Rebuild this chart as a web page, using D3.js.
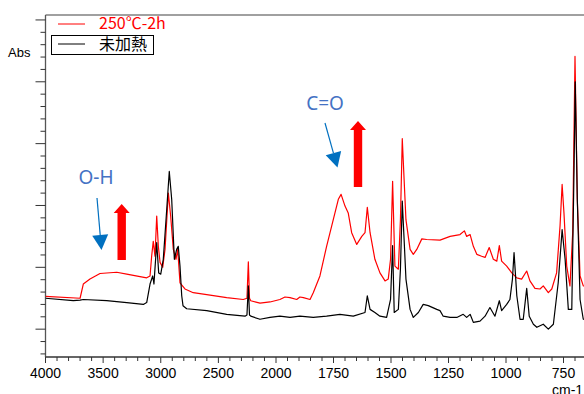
<!DOCTYPE html>
<html>
<head>
<meta charset="utf-8">
<script src="https://cdn.jsdelivr.net/npm/d3@7"></script>
<style>
  body { margin: 0; background: #fff; }
  svg { display: block; font-family: "Liberation Sans", Arial, sans-serif; }
</style>
</head>
<body>
<div id="chart"></div>
<script>
// wavenumber (cm-1) and absorbance
const heatedWn = [4000, 3700, 3672, 3614, 3527, 3382, 3295, 3180, 3122, 3093, 3079, 3065, 3050, 3035, 3021, 3006, 2983, 2963, 2934, 2914, 2891, 2868, 2853, 2833, 2790, 2718, 2601, 2428, 2284, 2252, 2240, 2230, 2219, 2139, 2052,
  1983, 1961, 1939, 1910, 1896, 1881, 1852, 1838, 1809, 1780, 1751, 1729, 1717, 1700, 1686, 1671, 1649, 1627, 1613, 1603, 1591, 1570, 1548, 1526, 1512, 1502, 1493, 1483, 1468, 1459, 1451, 1443, 1435, 1417, 1403, 1388, 1366, 1345, 1287, 1243, 1200, 1181, 1171, 1156, 1142, 1127, 1106, 1091, 1073, 1055, 1040, 1029, 1019, 997, 975, 953, 932, 910, 896, 874, 852, 838, 816, 801, 780, 765, 756, 748, 736, 722, 710, 700, 690, 678, 664, 635];
const heatedAbs = [0.053, 0.050, 0.073, 0.081, 0.090, 0.092, 0.089, 0.085, 0.083, 0.086, 0.118, 0.142, 0.118, 0.183, 0.134, 0.108, 0.100, 0.129, 0.220, 0.183, 0.129, 0.113, 0.129, 0.075, 0.065, 0.059, 0.056, 0.051, 0.048, 0.050, 0.109, 0.050, 0.046, 0.042, 0.044,
  0.048, 0.052, 0.051, 0.048, 0.052, 0.051, 0.048, 0.059, 0.086, 0.134, 0.177, 0.210, 0.218, 0.199, 0.188, 0.156, 0.137, 0.150, 0.156, 0.197, 0.156, 0.113, 0.091, 0.078, 0.081, 0.113, 0.239, 0.102, 0.097, 0.177, 0.308, 0.242, 0.177, 0.129, 0.121, 0.129, 0.146, 0.145, 0.144, 0.150, 0.153, 0.159, 0.150, 0.153, 0.134, 0.121, 0.118, 0.116, 0.132, 0.113, 0.110, 0.135, 0.110, 0.102, 0.091, 0.083, 0.081, 0.094, 0.078, 0.066, 0.065, 0.070, 0.059, 0.065, 0.091, 0.167, 0.234, 0.188, 0.102, 0.070, 0.156, 0.441, 0.210, 0.086, 0.070, 0.068];

const rawWn = [4000, 3759, 3700, 3672, 3469, 3295, 3151, 3122, 3093, 3070, 3059, 3035, 3018, 3000, 2978, 2948, 2926, 2905, 2882, 2862, 2848, 2833, 2818, 2807, 2775, 2601, 2428, 2269, 2252, 2240, 2230, 2219, 2139, 2052,
  1983, 1939, 1896, 1838, 1780, 1722, 1664, 1613, 1603, 1591, 1570, 1548, 1519, 1502, 1493, 1486, 1468, 1459, 1451, 1443, 1435, 1417, 1403, 1381, 1360, 1338, 1301, 1287, 1273, 1243, 1214, 1186, 1171, 1156, 1142, 1113, 1091, 1070, 1048, 1029, 1019, 997, 983, 972, 965, 959, 953, 939, 925, 910, 899, 881, 866, 838, 816, 794, 773, 756, 743, 729, 714, 704, 699, 690, 678, 664, 635];
const rawAbs = [0.050, 0.046, 0.047, 0.048, 0.046, 0.043, 0.040, 0.043, 0.073, 0.086, 0.073, 0.140, 0.091, 0.089, 0.113, 0.194, 0.255, 0.210, 0.113, 0.129, 0.134, 0.102, 0.054, 0.038, 0.033, 0.030, 0.024, 0.021, 0.023, 0.070, 0.023, 0.021, 0.016, 0.019,
  0.021, 0.019, 0.021, 0.019, 0.021, 0.024, 0.021, 0.027, 0.054, 0.032, 0.027, 0.021, 0.019, 0.048, 0.135, 0.027, 0.032, 0.097, 0.207, 0.145, 0.081, 0.032, 0.019, 0.027, 0.040, 0.038, 0.032, 0.030, 0.021, 0.019, 0.019, 0.024, 0.019, 0.024, 0.011, 0.013, 0.021, 0.035, 0.021, 0.046, 0.030, 0.040, 0.048, 0.081, 0.124, 0.089, 0.054, 0.016, 0.016, 0.066, 0.021, 0.008, 0.003, 0.008, 0.000, 0.008, 0.075, 0.161, 0.113, 0.032, 0.032, 0.263, 0.400, 0.210, 0.048, 0.016, 0.015];

const xLabels = [4000, 3500, 3000, 2500, 2000, 1750, 1500, 1250, 1000, 750];
const legendNames = ["250\u2103-2h", "未加熱"];
const seriesColors = ["#ff0000", "#000000"];

const width = 584, height = 394;
const plotLeft = 45.5, plotTop = 15, plotBottom = 357;

const svg = d3.select("#chart").append("svg")
  .attr("width", width).attr("height", height);

// x axis is split: above 2000 cm-1 it is compressed by half
const x = d3.scaleLinear().domain([4000, 2000, 650]).range([plotLeft, 276, 586.5]);
const y = d3.scaleLinear().domain([-0.045, 0.508]).range([plotBottom, plotTop]);

svg.append("defs").append("clipPath").attr("id", "plot")
  .append("rect").attr("x", plotLeft).attr("y", plotTop)
  .attr("width", width - plotLeft).attr("height", plotBottom - plotTop);

// frame
svg.append("line").attr("x1", plotLeft).attr("x2", width).attr("y1", plotTop).attr("y2", plotTop)
  .attr("stroke", "#808080").attr("stroke-width", 1.5);
svg.append("line").attr("x1", plotLeft).attr("x2", plotLeft).attr("y1", plotTop).attr("y2", plotBottom)
  .attr("stroke", "#555").attr("stroke-width", 1.3);
svg.append("line").attr("x1", plotLeft).attr("x2", width).attr("y1", plotBottom).attr("y2", plotBottom)
  .attr("stroke", "#333").attr("stroke-width", 1.3);

// y ticks, no labels
const yTicks = d3.range(-4, 51, 2).map(d => d / 100);
svg.append("g").selectAll("line").data(yTicks).join("line")
  .attr("x1", d => Math.abs(Math.round(d * 100) % 10) === 0 ? plotLeft - 10 : plotLeft - 5)
  .attr("x2", plotLeft)
  .attr("y1", d => y(d)).attr("y2", d => y(d))
  .attr("stroke", "#333").attr("stroke-width", 1);

// x ticks
const xMinor = d3.range(4000, 2000, -100).concat(d3.range(2000, 649, -50));
svg.append("g").selectAll("line").data(xMinor).join("line")
  .attr("x1", d => x(d)).attr("x2", d => x(d))
  .attr("y1", plotBottom).attr("y2", d => xLabels.includes(d) ? plotBottom + 6 : plotBottom + 4)
  .attr("stroke", "#333").attr("stroke-width", 1);

svg.append("g").selectAll("text").data(xLabels).join("text")
  .attr("x", d => x(d)).attr("y", 378)
  .attr("text-anchor", "middle").attr("font-size", 14).attr("fill", "#000")
  .text(d => d);

svg.append("text").attr("x", 552).attr("y", 395).attr("font-size", 14).text("cm-1");
svg.append("text").attr("x", 8).attr("y", 57).attr("font-size", 13).text("Abs");

// spectra
const line = d3.line().x(d => x(d[0])).y(d => y(d[1]));
const series = [d3.zip(heatedWn, heatedAbs), d3.zip(rawWn, rawAbs)];
svg.append("g").attr("clip-path", "url(#plot)")
  .selectAll("path").data(series).join("path")
  .attr("d", line)
  .attr("fill", "none")
  .attr("stroke", (d, i) => seriesColors[i])
  .attr("stroke-width", 1.2)
  .attr("stroke-linejoin", "round");

// legend
const legendY = [24, 44];
const leg = svg.append("g").attr("font-family", "'Noto Sans CJK JP', sans-serif").attr("font-size", 16);
leg.append("rect").attr("x", 51.5).attr("y", 35.5).attr("width", 102).attr("height", 19)
  .attr("fill", "none").attr("stroke", "#000").attr("stroke-width", 1);
legendNames.forEach((name, i) => {
  leg.append("line").attr("x1", 58).attr("x2", 85).attr("y1", legendY[i]).attr("y2", legendY[i])
    .attr("stroke", seriesColors[i]).attr("stroke-width", 1);
  leg.append("text").attr("x", 99).attr("y", legendY[i] + (i === 0 ? 5 : 6))
    .attr("fill", seriesColors[i]).text(name);
});

// annotations
const blueText = "#4472c4", blueArrow = "#0070c0";
const note = svg.append("g").attr("font-family", "'Noto Sans', sans-serif").attr("font-size", 19).attr("fill", blueText);
note.append("text").attr("x", 96).attr("y", 184).attr("text-anchor", "middle").text("O-H");
note.append("text").attr("x", 325).attr("y", 110).attr("text-anchor", "middle").text("C=O");

function blueArrowTo(x1, y1, x2, y2) {
  const dx = x2 - x1, dy = y2 - y1, len = Math.hypot(dx, dy);
  const ux = dx / len, uy = dy / len, hl = 15, hw = 8;
  const bx = x2 - ux * hl, by = y2 - uy * hl;
  svg.append("line").attr("x1", x1).attr("y1", y1).attr("x2", bx).attr("y2", by)
    .attr("stroke", blueArrow).attr("stroke-width", 1.2);
  svg.append("path")
    .attr("d", `M${x2},${y2}L${bx - uy * hw},${by + ux * hw}L${bx + uy * hw},${by - ux * hw}Z`)
    .attr("fill", blueArrow);
}
blueArrowTo(97, 198, 101.5, 250);
blueArrowTo(325, 123, 337.5, 167.5);

function redArrowUp(cx, yTop, yBot) {
  const sw = 4.2, hw = 8, hl = 9;
  svg.append("path")
    .attr("d", `M${cx - sw},${yBot}L${cx - sw},${yTop + hl}L${cx - hw},${yTop + hl}L${cx},${yTop}L${cx + hw},${yTop + hl}L${cx + sw},${yTop + hl}L${cx + sw},${yBot}Z`)
    .attr("fill", "#ff0000");
}
redArrowUp(121.7, 204, 260);
redArrowUp(358, 121, 187);
</script>
</body>
</html>
